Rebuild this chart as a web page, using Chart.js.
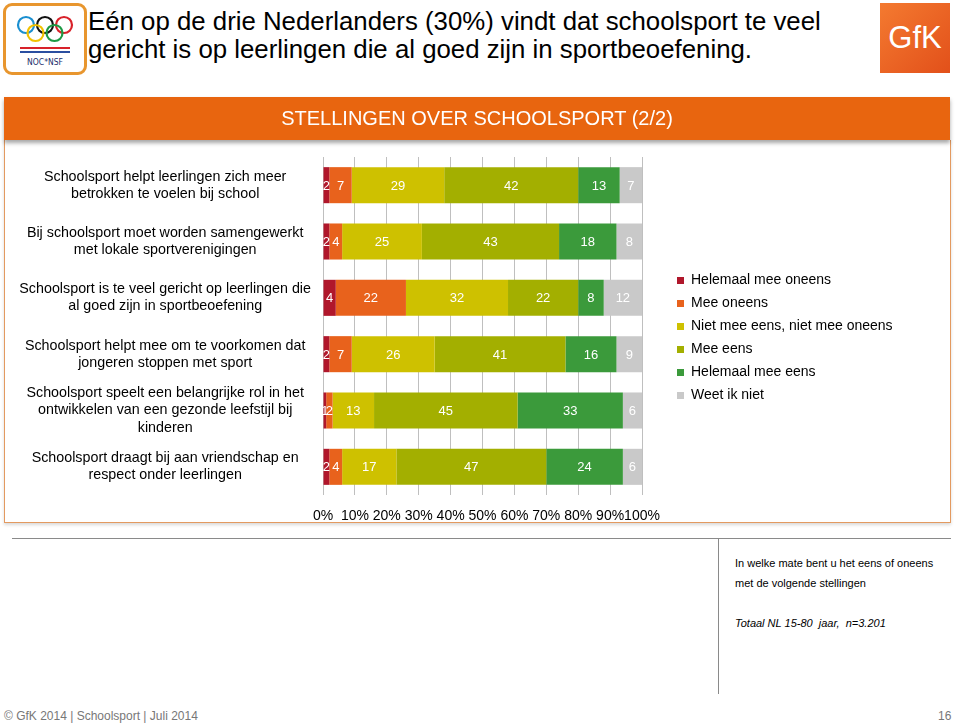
<!DOCTYPE html>
<html><head><meta charset="utf-8">
<script src="https://cdn.jsdelivr.net/npm/chart.js@4.4.1/dist/chart.umd.min.js"></script>
<style>
body{margin:0;width:960px;height:726px;background:#fff;position:relative;overflow:hidden;font-family:"Liberation Sans",Arial,sans-serif;}
.abs{position:absolute;}
#title{left:88px;top:7px;font-size:25.8px;line-height:28px;color:#000;white-space:nowrap;}
#header{left:4px;top:97px;width:946px;height:43px;background:#E8650F;color:#fff;font-size:20px;text-align:center;line-height:43px;box-shadow:0 3px 4px rgba(0,0,0,0.35);z-index:2;}
#panel{left:4px;top:140px;width:945px;height:382px;border:1px solid #E39A60;border-top:none;box-shadow:0 2px 3px rgba(0,0,0,0.15);}
#chartbox{left:6px;top:141px;width:944px;height:384px;}
#hline{left:12px;top:538px;width:939px;height:1px;background:#8a8a8a;}
#vline{left:718px;top:538px;width:1px;height:156px;background:#8a8a8a;}
.note{left:735px;font-size:11px;color:#000;white-space:nowrap;}
#footer{left:4px;top:709px;font-size:12px;color:#777;}
#pnum{left:938px;top:709px;font-size:12px;color:#777;}
#noc{left:3px;top:3px;width:78px;height:66px;border:3px solid #E8962E;border-radius:9px;background:#fff;}
#gfk{left:880px;top:3px;width:70px;height:70px;background:linear-gradient(135deg,#F47A30,#E2501A);color:#fff;font-size:31px;text-align:center;line-height:70px;}
</style></head><body>
<div id="noc" class="abs">
<svg width="78" height="66" viewBox="0 0 78 66">
<g fill="none" stroke-width="2.2">
<circle cx="20" cy="19" r="8" stroke="#1a8fd0"/>
<circle cx="39" cy="19" r="8" stroke="#111"/>
<circle cx="58" cy="19" r="8" stroke="#d8222a"/>
<circle cx="29.5" cy="27" r="8" stroke="#f2c200"/>
<circle cx="48.5" cy="27" r="8" stroke="#1d9a45"/>
</g>
<rect x="14" y="41" width="50" height="2" fill="#d8222a"/>
<rect x="14" y="45" width="50" height="2" fill="#2a4ea0"/>
<text x="39" y="59" font-size="8.5" text-anchor="middle" font-family="DejaVu Sans Condensed, Liberation Sans Narrow" fill="#1a2d6a">NOC*NSF</text>
</svg></div>
<div id="title" class="abs">Eén op de drie Nederlanders (30%) vindt dat schoolsport te veel<br>gericht is op leerlingen die al goed zijn in sportbeoefening.</div>
<div id="gfk" class="abs">GfK</div>
<div id="panel" class="abs"></div>
<div id="header" class="abs">STELLINGEN OVER SCHOOLSPORT (2/2)</div>
<div id="chartbox" class="abs"><canvas id="c"></canvas></div>
<div id="hline" class="abs"></div>
<div id="vline" class="abs"></div>
<div class="abs note" style="top:557px">In welke mate bent u het eens of oneens</div>
<div class="abs note" style="top:577px">met de volgende stellingen</div>
<div class="abs note" style="top:617px;font-style:italic">Totaal NL 15-80&nbsp; jaar,&nbsp; n=3.201</div>
<div id="footer" class="abs">© GfK 2014 | Schoolsport | Juli 2014</div>
<div id="pnum" class="abs">16</div>
<script>
const categories = [
  ["Schoolsport helpt leerlingen zich meer", "betrokken te voelen bij school"],
  ["Bij schoolsport moet worden samengewerkt", "met lokale sportverenigingen"],
  ["Schoolsport is te veel gericht op leerlingen die", "al goed zijn in sportbeoefening"],
  ["Schoolsport helpt mee om te voorkomen dat", "jongeren stoppen met sport"],
  ["Schoolsport speelt een belangrijke rol in het", "ontwikkelen van een gezonde leefstijl bij", "kinderen"],
  ["Schoolsport draagt bij aan vriendschap en", "respect onder leerlingen"]
];
const seriesNames = ["Helemaal mee oneens", "Mee oneens", "Niet mee eens, niet mee oneens", "Mee eens", "Helemaal mee eens", "Weet ik niet"];
const helemaalMeeOneens = [2, 2, 4, 2, 1, 2];
const meeOneens = [7, 4, 22, 7, 2, 4];
const neutraal = [29, 25, 32, 26, 13, 17];
const meeEens = [42, 43, 22, 41, 45, 47];
const helemaalMeeEens = [13, 18, 8, 16, 33, 24];
const weetIkNiet = [7, 8, 12, 9, 6, 6];
const xTickValues = [0, 10, 20, 30, 40, 50, 60, 70, 80, 90, 100];
const seriesColors = ["#B0172B", "#E8621C", "#CEC100", "#A3AF00", "#3B9A3B", "#C9C9C9"];

const seriesData = [helemaalMeeOneens, meeOneens, neutraal, meeEens, helemaalMeeEens, weetIkNiet];

const valueLabels = {
  id: 'valueLabels',
  afterDatasetsDraw(chart) {
    const ctx = chart.ctx;
    ctx.save();
    ctx.font = '13px "Liberation Sans", Arial, sans-serif';
    ctx.fillStyle = '#fff';
    ctx.textAlign = 'center';
    ctx.textBaseline = 'middle';
    chart.data.datasets.forEach((ds, i) => {
      chart.getDatasetMeta(i).data.forEach((el, j) => {
        const x1 = Math.min(el.x, chart.chartArea.right);
        ctx.fillText(String(ds.data[j]), (el.base + x1) / 2, el.y + 1);
      });
    });
    ctx.restore();
  }
};

// nudge the legend block closer to the plot (its width is capped by the layout)
const legendNudge = {
  id: 'legendNudge',
  afterLayout(chart) {
    const lg = chart.legend;
    if (!lg) return;
    lg.left -= 37; lg.right -= 37;
    lg.top -= 3; lg.bottom -= 3;
  }
};

new Chart(document.getElementById('c'), {
  type: 'bar',
  data: {
    labels: categories,
    datasets: seriesNames.map((n, i) => ({
      label: n,
      data: seriesData[i],
      backgroundColor: seriesColors[i],
      borderWidth: 0,
      barPercentage: 0.64,
      categoryPercentage: 1.0
    }))
  },
  options: {
    indexAxis: 'y',
    responsive: true,
    maintainAspectRatio: false,
    animation: false,
    layout: { padding: { top: 16, left: 0, right: 12, bottom: 0 } },
    scales: {
      x: {
        stacked: true, min: 0, max: 100,
        afterBuildTicks(s) { s.ticks = xTickValues.map(v => ({ value: v })); },
        ticks: { callback: v => v + '%', color: '#000', font: { size: 14, family: '"Liberation Sans", Arial' }, padding: 13, maxRotation: 0, autoSkip: false },
        grid: { color: '#BFBFBF', drawTicks: false },
        border: { display: false },
        afterFit(s) { s.height = 30; }
      },
      y: {
        stacked: true,
        ticks: { color: '#000', font: { size: 14.3, family: '"Liberation Sans", Arial' }, crossAlign: 'center', padding: 4, autoSkip: false },
        grid: { display: false },
        border: { display: false },
        afterFit(s) { s.width = 317; s.paddingTop = 0; s.paddingBottom = 0; }
      },
      gap: {
        type: 'category', position: 'right', labels: categories, display: false,
        afterFit(s) { s.width = 63; }
      }
    },
    plugins: {
      legend: {
        position: 'right', align: 'center',
        labels: { boxWidth: 7, boxHeight: 7, padding: 9, color: '#000', font: { size: 14, family: '"Liberation Sans", Arial' } }
      },
      tooltip: { enabled: false }
    }
  },
  plugins: [valueLabels, legendNudge]
});
</script>
</body></html>
